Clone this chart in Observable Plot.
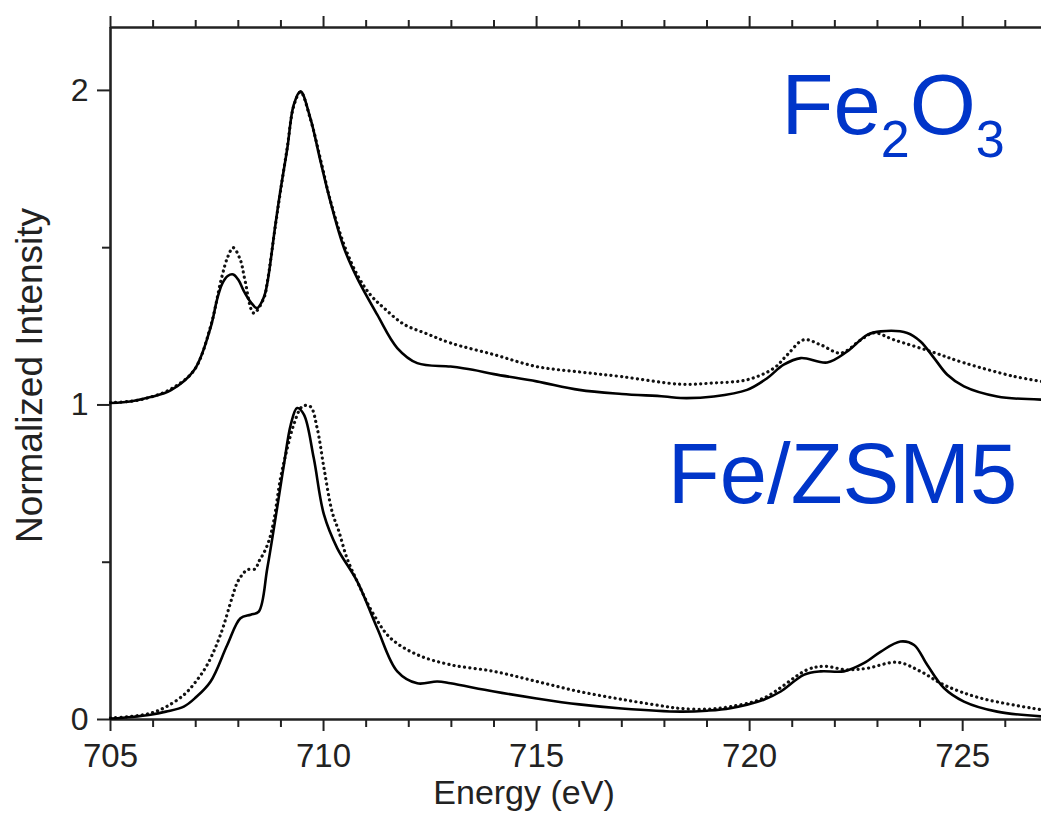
<!DOCTYPE html>
<html>
<head>
<meta charset="utf-8">
<script src="https://cdn.jsdelivr.net/npm/d3@7"></script>
<script src="https://cdn.jsdelivr.net/npm/@observablehq/plot@0.6"></script>
<style>
  html, body { margin: 0; padding: 0; background: #fff; }
  #chart { width: 1041px; height: 819px; }
</style>
</head>
<body>
<div id="chart"></div>
<script>
// ---- Data ----
// Energy (eV) and normalized intensity (Fe2O3 is drawn with +1 offset as in the original)
const fe2o3CalcE = [705.0,705.5,705.94,706.41,706.96,707.35,707.5,707.62,707.75,707.88,708.0,708.13,708.29,708.44,708.6,708.68,708.87,708.99,709.15,709.3,709.46,709.69,709.93,710.16,710.48,710.79,711.26,711.73,712.2,712.98,713.5,714,715,716,717,718,718.38,719.16,719.94,720.41,720.8,721.2,721.82,722.29,722.76,723.08,723.7,724.01,724.33,724.64,725.03,725.81,726.85];
const fe2o3CalcI = [1.006,1.012,1.025,1.046,1.11,1.247,1.335,1.385,1.410,1.415,1.398,1.362,1.327,1.308,1.343,1.387,1.573,1.684,1.816,1.954,1.997,1.912,1.774,1.647,1.499,1.403,1.287,1.181,1.133,1.122,1.112,1.098,1.075,1.048,1.035,1.027,1.022,1.027,1.048,1.085,1.128,1.149,1.135,1.170,1.223,1.234,1.229,1.202,1.149,1.096,1.059,1.027,1.017];

const fe2o3ExpE = [705.0,705.5,705.94,706.41,706.96,707.35,707.6,707.75,707.88,708.05,708.15,708.36,708.6,708.68,708.87,708.99,709.15,709.3,709.46,709.69,709.93,710.16,710.48,710.79,711.1,711.42,711.88,712.43,712.98,714,715,716,717,718.38,719.16,719.94,720.57,720.88,721.27,721.67,722.14,722.61,722.92,723.39,724.25,725.03,726.2,726.85];
const fe2o3ExpI = [1.008,1.012,1.025,1.05,1.11,1.25,1.40,1.47,1.50,1.46,1.40,1.292,1.34,1.39,1.57,1.68,1.82,1.95,1.995,1.91,1.78,1.65,1.51,1.414,1.350,1.308,1.257,1.226,1.197,1.16,1.122,1.105,1.09,1.066,1.07,1.08,1.117,1.159,1.207,1.191,1.165,1.207,1.229,1.207,1.170,1.134,1.091,1.075];

const zsmCalcE = [705.0,705.5,705.94,706.3,706.72,707.0,707.35,707.74,708.05,708.29,708.48,708.68,708.91,709.07,709.23,709.38,709.54,709.77,710.01,710.32,710.79,711.26,711.73,712.2,712.67,712.98,714,715,716,717,718.38,719.0,719.55,720.33,720.73,721.27,721.67,722.21,722.68,723.08,723.54,723.86,724.17,724.56,725.03,725.81,726.85];
const zsmCalcI = [0.003,0.008,0.015,0.025,0.041,0.07,0.121,0.237,0.322,0.333,0.343,0.481,0.672,0.81,0.937,0.99,0.969,0.831,0.651,0.545,0.439,0.29,0.153,0.115,0.121,0.115,0.089,0.067,0.048,0.035,0.025,0.028,0.036,0.063,0.089,0.142,0.153,0.153,0.179,0.216,0.248,0.237,0.173,0.10,0.057,0.025,0.01];

const zsmExpE = [705.0,705.5,705.94,706.3,706.72,707.0,707.27,707.58,707.85,707.97,708.09,708.21,708.4,708.48,708.6,708.72,708.83,708.99,709.15,709.3,709.5,709.69,709.85,710.01,710.2,710.36,710.55,710.79,711.18,711.57,712.2,712.98,714,715,716,717,718,718.38,719.0,719.55,720.33,721.35,721.74,722.29,722.76,723.47,724.01,724.56,725.42,726.85];
const zsmExpI = [0.005,0.01,0.02,0.04,0.078,0.12,0.174,0.269,0.386,0.434,0.46,0.476,0.479,0.502,0.53,0.569,0.63,0.767,0.863,0.937,0.995,0.995,0.926,0.799,0.661,0.598,0.513,0.439,0.333,0.259,0.206,0.174,0.153,0.121,0.089,0.064,0.042,0.035,0.033,0.041,0.068,0.158,0.169,0.158,0.163,0.182,0.153,0.11,0.068,0.031];

const xMajorTicks = [705, 710, 715, 720, 725];
const xMinorTicks = [706,707,708,709,711,712,713,714,716,717,718,719,721,722,723,724,726];
const yMajorTicks = [0, 1, 2];
const yMinorTicks = [0.5, 1.5];
const sampleLabels = ["Fe2O3", "Fe/ZSM5"];
const xTitle = "Energy (eV)";
const yTitle = "Normalized Intensity";

const toRows = (E, I) => E.map((e, i) => ({e, v: I[i]}));
const fe2o3Calc = toRows(fe2o3CalcE, fe2o3CalcI);
const fe2o3Exp = toRows(fe2o3ExpE, fe2o3ExpI);
const zsmCalc = toRows(zsmCalcE, zsmCalcI);
const zsmExp = toRows(zsmExpE, zsmExpI);

const AX = "#222";
const BLUE = "#0035c9";

const solid = {x: "e", y: "v", stroke: "#000", strokeWidth: 2.6, curve: "catmull-rom"};
const dotted = {x: "e", y: "v", stroke: "#111", strokeWidth: 3.2, curve: "catmull-rom",
  strokeDasharray: "0.1 5.2", strokeLinecap: "round"};

const plot = Plot.plot({
  width: 1041,
  height: 819,
  marginLeft: 110,
  marginRight: 0,
  marginTop: 27,
  marginBottom: 100,
  style: {fontFamily: "'Liberation Sans', Arial, sans-serif", background: "#fff", color: AX},
  x: {domain: [705, 726.85]},
  y: {domain: [0, 2.2]},
  marks: [
    // bottom axis
    Plot.axisX(xMajorTicks, {anchor: "bottom", tickSize: 12, tickPadding: 12, fontSize: 33, strokeWidth: 2, label: null, tickFormat: d => String(d)}),
    Plot.axisX(xMinorTicks, {anchor: "bottom", tickSize: 8, strokeWidth: 2, label: null, tickFormat: () => ""}),
    // top axis (ticks outward, no labels)
    Plot.axisX(xMajorTicks, {anchor: "top", tickSize: 12, strokeWidth: 2, label: null, tickFormat: () => ""}),
    Plot.axisX(xMinorTicks, {anchor: "top", tickSize: 8, strokeWidth: 2, label: null, tickFormat: () => ""}),
    // left axis
    Plot.axisY(yMajorTicks, {anchor: "left", tickSize: 13, tickPadding: 9, fontSize: 32, strokeWidth: 2, label: null, tickFormat: d => String(d)}),
    Plot.axisY(yMinorTicks, {anchor: "left", tickSize: 8, strokeWidth: 2, label: null, tickFormat: () => ""}),
    // axis lines
    Plot.ruleX([705], {stroke: AX, strokeWidth: 2.6}),
    Plot.ruleY([0], {stroke: AX, strokeWidth: 2.6}),
    Plot.ruleY([2.2], {stroke: AX, strokeWidth: 2.6}),
    // axis titles
    Plot.text([xTitle], {frameAnchor: "bottom", dx: -52, dy: 84, fontSize: 34, fill: AX}),
    Plot.text([yTitle], {frameAnchor: "left", textAnchor: "middle", rotate: -90, dx: -80, dy: 2, fontSize: 37, fill: AX}),
    // spectra
    Plot.line(fe2o3Exp, dotted),
    Plot.line(zsmExp, dotted),
    Plot.line(fe2o3Calc, solid),
    Plot.line(zsmCalc, solid),
    // sample labels
    Plot.text([sampleLabels[0]], {x: () => 720.75, y: () => 1.86, text: d => d, textAnchor: "start", lineAnchor: "bottom", fontSize: 85, fill: BLUE}),
    Plot.text([sampleLabels[1]], {x: () => 718.08, y: () => 0.687, text: d => d, textAnchor: "start", lineAnchor: "bottom", fontSize: 85, fill: BLUE})
  ]
});

// render chemical subscripts for Fe2O3
d3.select(plot).selectAll("text").each(function() {
  if (this.textContent === "Fe2O3") {
    const t = d3.select(this);
    t.text(null);
    const parts = [["Fe", false], ["2", true], ["O", false], ["3", true]];
    let shifted = false;
    for (const [s, sub] of parts) {
      const sp = t.append("tspan").text(s);
      if (sub) { sp.attr("font-size", 52); if (!shifted) { sp.attr("dy", 23); shifted = true; } }
      else { sp.attr("font-size", 85); if (shifted) { sp.attr("dy", -23); shifted = false; } }
    }
  }
});

document.getElementById("chart").appendChild(plot);
</script>
</body>
</html>
